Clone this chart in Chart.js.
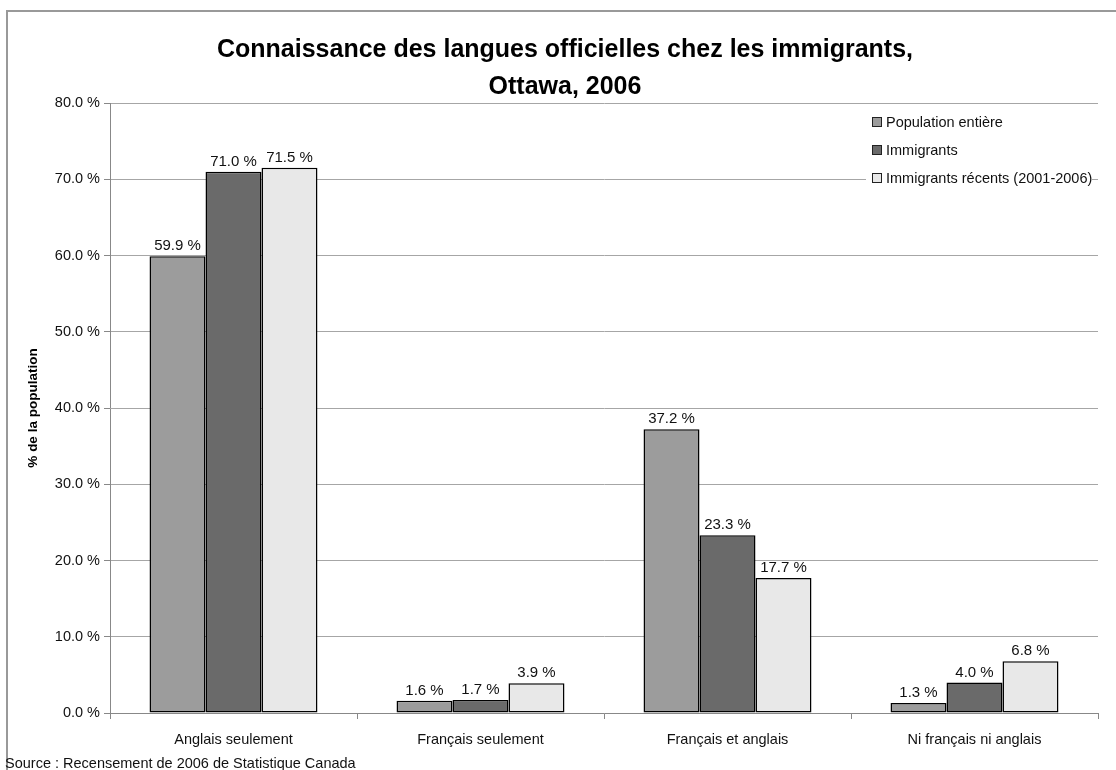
<!DOCTYPE html>
<html lang="fr">
<head>
<meta charset="utf-8">
<title>Connaissance des langues officielles chez les immigrants, Ottawa, 2006</title>
<script src="https://cdn.jsdelivr.net/npm/chart.js@4/dist/chart.umd.min.js"></script>
<style>
  html, body { margin: 0; padding: 0; background: #fff; }
  canvas { display: block; }
</style>
</head>
<body>
<canvas id="chart" width="1116" height="770"></canvas>
<script>
// Categories, series and tick labels
const categories = ["Anglais seulement", "Français seulement", "Français et anglais", "Ni français ni anglais"];
const seriesNames = ["Population entière", "Immigrants", "Immigrants récents (2001-2006)"];
const populationEntiere = [59.9, 1.6, 37.2, 1.3];
const immigrants = [71.0, 1.7, 23.3, 4.0];
const immigrantsRecents = [71.5, 3.9, 17.7, 6.8];
const yTickLabels = ["0.0 %", "10.0 %", "20.0 %", "30.0 %", "40.0 %", "50.0 %", "60.0 %", "70.0 %", "80.0 %"];
const sourceText = "Source : Recensement de 2006 de Statistique Canada";

const seriesColors = ["#9c9c9c", "#6a6a6a", "#e8e8e8"];
const FONT = "'Liberation Sans', Arial, sans-serif";

const fmt = v => v.toFixed(1) + " %";

// White page, grey frame and source line
const framePlugin = {
    id: "frame",
    beforeDraw(chart) {
        const ctx = chart.ctx;
        ctx.save();
        ctx.fillStyle = "#fff";
        ctx.fillRect(0, 0, chart.width, chart.height);
        ctx.strokeStyle = "#999";
        ctx.lineWidth = 2;
        ctx.beginPath();
        ctx.moveTo(7, chart.height);
        ctx.lineTo(7, 11);
        ctx.lineTo(chart.width, 11);
        ctx.stroke();
        ctx.restore();
    },
    afterDraw(chart) {
        const ctx = chart.ctx;
        ctx.save();
        ctx.fillStyle = "#111";
        ctx.font = "14.5px " + FONT;
        ctx.textBaseline = "alphabetic";
        ctx.textAlign = "left";
        ctx.fillText(sourceText, 5, 768);
        ctx.restore();
    }
};

// Value labels above each bar
const valueLabels = {
    id: "valueLabels",
    afterDatasetsDraw(chart) {
        const ctx = chart.ctx;
        ctx.save();
        ctx.fillStyle = "#111";
        ctx.font = "15px " + FONT;
        ctx.textAlign = "center";
        ctx.textBaseline = "alphabetic";
        chart.data.datasets.forEach((ds, i) => {
            chart.getDatasetMeta(i).data.forEach((bar, j) => {
                ctx.fillText(fmt(ds.data[j]), bar.x, bar.y - 6);
            });
        });
        ctx.restore();
    }
};

// Legend box in the top right corner of the plot
const boxLegend = {
    id: "boxLegend",
    afterDatasetsDraw(chart) {
        const ctx = chart.ctx;
        const x = 866, y = 108, w = 226, h = 86;
        ctx.save();
        ctx.fillStyle = "#fff";
        ctx.fillRect(x, y, w, h);
        ctx.font = "14.5px " + FONT;
        ctx.textAlign = "left";
        ctx.textBaseline = "alphabetic";
        chart.data.datasets.forEach((ds, i) => {
            const base = 127 + i * 28;
            ctx.fillStyle = ds.backgroundColor;
            ctx.fillRect(872.5, base - 9.5, 9, 9);
            ctx.strokeStyle = "#222";
            ctx.lineWidth = 1;
            ctx.strokeRect(872.5, base - 9.5, 9, 9);
            ctx.fillStyle = "#111";
            ctx.fillText(ds.label, 886, base);
        });
        ctx.restore();
    }
};

const ctx = document.getElementById("chart").getContext("2d");
new Chart(ctx, {
    type: "bar",
    data: {
        labels: categories,
        datasets: [populationEntiere, immigrants, immigrantsRecents].map((values, i) => ({
            label: seriesNames[i],
            data: values,
            backgroundColor: seriesColors[i],
            borderColor: "#000",
            borderWidth: 1.5,
            borderSkipped: false,
            categoryPercentage: 0.68,
            barPercentage: 1.0
        }))
    },
    options: {
        responsive: false,
        animation: false,
        devicePixelRatio: 1,
        layout: {
            padding: { left: 32, right: 18, top: 0, bottom: 0 }
        },
        plugins: {
            legend: { display: false },
            tooltip: { enabled: false },
            title: {
                display: true,
                text: ["Connaissance des langues officielles chez les immigrants,", "Ottawa, 2006"],
                color: "#000",
                font: { family: FONT, size: 25, weight: "bold", lineHeight: 1.5 },
                padding: { top: 31, bottom: -3 }
            }
        },
        scales: {
            x: {
                afterFit(scale) { scale.height = 57; },
                grid: {
                    offset: true,
                    drawOnChartArea: false,
                    drawTicks: true,
                    tickLength: 6,
                    tickColor: "#888"
                },
                border: { color: "#888", width: 1 },
                ticks: {
                    color: "#111",
                    padding: 12,
                    maxRotation: 0,
                    font: { family: FONT, size: 14.5 }
                }
            },
            y: {
                min: 0,
                max: 80,
                afterFit(scale) { scale.width = 78; },
                grid: {
                    color: "#a6a6a6",
                    tickColor: "#888",
                    tickLength: 6,
                    drawTicks: true
                },
                border: { color: "#888", width: 1 },
                ticks: {
                    stepSize: 10,
                    color: "#111",
                    padding: 4,
                    font: { family: FONT, size: 14.5 },
                    callback: (value, index) => yTickLabels[index]
                },
                title: {
                    display: true,
                    text: "% de la population",
                    color: "#000",
                    font: { family: FONT, size: 13.5, weight: "bold" },
                    padding: { top: -7, bottom: 0 }
                }
            }
        }
    },
    plugins: [framePlugin, valueLabels, boxLegend]
});
</script>
</body>
</html>
